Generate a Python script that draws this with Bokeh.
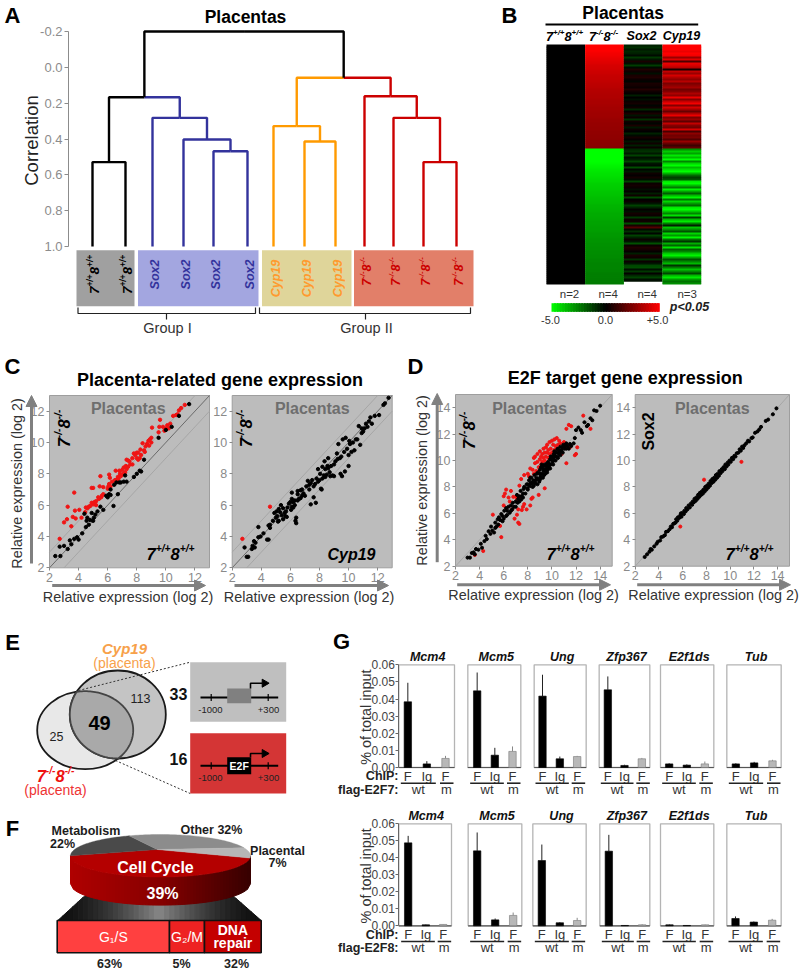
import numpy as np
from bokeh.plotting import figure
from bokeh.models import Range1d, LinearAxis, FixedTicker, Arrow, NormalHead, LinearColorMapper, PrintfTickFormatter, ColumnDataSource
from bokeh.core.properties import value
from bokeh.embed import file_html
from bokeh.resources import INLINE

# ---------- data ----------
LEAF_NAMES = ["WT"]*2 + ["Sox2"]*4 + ["Cyp19"]*3 + ["KO"]*4
H_BLACK_PAIR = 0.529
H_SOX = [0.468, 0.403, 0.282]
H_LEFT = 0.167
H_CYP = [0.414, 0.328]
H_KO = [0.529, 0.282, 0.161]
H_RIGHT = 0.058
H_ROOT = -0.2
CORR_TICKS = [-0.2, 0.0, 0.2, 0.4, 0.6, 0.8, 1.0]

HM_HEAD = ["WT", "KO", "Sox2", "Cyp19"]
HM_N = ["n=2", "n=4", "n=4", "n=3"]
HM_WT = [0.0]*120
HM_KO = [5.0,5.0,5.0,4.9,4.8,4.7,4.6,4.5,4.4,4.3,4.2,4.15,4.1,4.0,3.95,3.9,3.85,3.8,3.75,3.7,3.65,3.6,3.55,3.5,3.45,3.4,3.4,3.35,3.3,3.3,3.25,3.2,3.2,3.15,3.1,3.1,3.05,3.0,3.0,2.95,2.95,2.9,2.9,2.85,2.85,2.8,2.8,2.75,2.75,2.7,2.7,2.65,
 -5.0,-5.0,-5.0,-5.0,-5.0,-5.0,-5.0,-4.9,-4.8,-4.7,-4.6,-4.5,-4.45,-4.4,-4.3,-4.25,-4.2,-4.1,-4.05,-4.0,-3.95,-3.9,-3.85,-3.8,-3.75,-3.7,-3.65,-3.6,-3.55,-3.5,-3.45,-3.4,-3.35,-3.35,-3.3,-3.25,-3.2,-3.2,-3.15,-3.1,-3.1,-3.05,-3.0,-3.0,-2.95,-2.9,-2.9,-2.85,-2.85,-2.8,-2.8,-2.75,-2.75,-2.7,-2.7,-2.65,-2.65,-2.6,-2.6,-2.6,-2.55,-2.55,-2.5,-2.5,-2.5,-2.45,-2.45,-2.4]
HM_SOX = [-0.7,-0.9,-0.5,-0.8,-0.6,-0.2,-1.1,-0.4,0.5,-0.3,-1.2,-0.2,0.6,0.3,-0.3,0.5,0.6,0.2,-0.1,0.5,0.4,0.2,0.7,0.3,0.1,-0.6,0.0,-0.3,0.2,0.4,-0.1,0.3,-0.8,0.1,0.5,-0.4,0.2,-1.0,0.3,-0.1,0.5,-0.5,0.2,0.0,-0.7,-0.2,0.4,0.1,-0.4,0.3,-0.6,0.2,
 -0.8,-1.0,-0.5,-1.3,-0.3,-0.6,-1.4,-0.4,-0.2,-1.5,-0.1,-0.5,0.3,0.1,0.4,-0.2,-1.3,0.2,0.4,0.2,-0.3,0.1,-0.6,0.3,-1.4,0.0,0.2,-0.4,-1.3,-0.7,0.1,-0.3,0.4,0.2,-1.1,0.2,0.3,-1.5,0.5,1.6,-0.2,-0.9,-0.1,-1.3,-0.6,0.2,-0.4,-1.6,0.2,0.6,0.4,0.1,-0.6,0.5,0.3,-1.0,0.2,-0.4,-1.4,-1.5,-0.3,-1.1,0.1,-0.8,-1.3,-0.3]
HM_CYP = [5.0,5.0,5.0,4.6,5.0,4.8,3.0,4.4,1.5,4.6,4.2,3.6,0.4,3.8,3.0,4.2,3.4,2.8,3.6,2.4,2.8,3.2,2.2,2.6,3.4,2.8,4.6,2.6,3.8,4.8,2.6,4.2,3.2,2.0,3.4,4.6,2.4,3.0,1.8,3.8,2.6,2.2,4.2,1.4,2.8,2.2,2.4,1.6,3.0,2.0,1.2,1.8,
 -2.8,-4.0,-3.2,-4.6,-3.6,-5.0,-2.6,-4.2,-5.0,-3.6,-4.4,-5.0,-3.4,-2.0,-1.2,-1.6,-4.6,-5.0,-3.6,-2.4,-4.8,-3.2,-1.8,-3.6,-4.8,-2.2,-4.2,-3.0,-2.0,-4.6,-5.0,-3.8,-2.6,-4.4,-1.2,-3.6,-4.6,-2.4,-0.6,-3.8,-2.8,-1.6,-4.2,-3.0,-4.8,-2.2,-1.0,-3.4,-2.0,-4.4,-1.8,-2.6,-4.0,-4.8,-3.2,-1.6,-2.6,-3.6,-1.0,-2.4,-3.8,-2.6,-1.4,-3.6,-4.6,-3.0,-2.2,-2.8]

C1_RED = [(2.7,3.85),(3.0,4.9),(3.2,5.1),(3.25,5.9),(3.5,4.65),(3.6,5.25),(3.7,6.8),(3.75,5.65),(3.8,5.15),(4.05,5.7),(4.2,5.2),(4.45,5.55),(4.5,5.85),(4.6,5.8),(4.7,5.9),(4.8,5.95),(4.9,6.15),(4.9,7.1),(5.0,7.1),(5.0,6.05),(5.1,6.2),(5.2,6.25),(5.2,6.0),(5.35,6.5),(5.4,6.4),(5.45,7.2),(5.5,7.85),(5.55,6.5),(5.6,6.6),(5.7,6.7),(5.7,7.15),(6.0,7.05),(6.05,7.2),(6.1,7.95),(6.1,7.35),(6.15,7.75),(6.2,7.2),(6.3,7.5),(6.5,7.6),(6.55,8.2),(6.6,7.55),(6.65,7.65),(6.7,7.8),(6.75,7.7),(6.8,8.2),(6.85,8.0),(6.9,7.85),(7.0,8.25),(7.0,7.95),(7.1,8.4),(7.1,8.0),(7.2,8.1),(7.25,8.5),(7.3,8.3),(7.3,8.9),(7.4,8.45),(7.4,8.85),(7.5,8.8),(7.55,8.6),(7.7,9.0),(7.7,8.6),(7.8,9.3),(7.9,9.2),(8.0,9.0),(8.0,9.35),(8.1,9.35),(8.1,8.9),(8.2,9.0),(8.25,9.55),(8.3,9.2),(8.4,9.95),(8.5,9.5),(8.55,9.4),(8.6,9.75),(8.7,9.9),(8.8,10.1),(8.85,9.8),(8.9,10.2),(9.0,10.3),(9.0,10.0),(9.05,10.95),(9.5,10.65),(9.55,11.0),(9.6,11.45),(9.8,11.0),(9.9,10.75),(10.0,10.9),(10.1,11.1),(10.2,10.9),(10.3,11.2),(10.5,11.7),(10.7,11.75),(10.8,11.8),(10.9,12.05),(11.05,12.2),(11.3,12.4)]
C1_BLACK = [(2.4,2.75),(2.75,2.75),(2.7,3.35),(3.0,3.4),(3.25,3.2),(3.4,3.75),(3.5,3.5),(3.7,3.85),(3.9,3.95),(4.0,3.8),(4.25,4.2),(4.4,5.45),(4.5,4.6),(4.55,5.0),(4.6,5.2),(4.7,4.75),(4.8,5.05),(4.9,5.5),(5.0,5.0),(5.05,5.2),(5.15,5.4),(5.3,5.6),(5.5,5.9),(5.7,5.7),(5.9,6.6),(6.0,6.5),(6.1,6.7),(6.2,6.65),(6.2,7.0),(6.4,5.95),(6.45,7.3),(6.6,7.45),(6.7,6.7),(6.8,7.45),(6.9,7.45),(7.1,7.5),(7.2,7.9),(7.3,7.5),(7.8,7.8),(8.0,8.0),(8.2,8.2),(8.3,8.15),(8.5,8.9),(9.5,10.3),(10.0,10.8),(10.4,11.0),(10.9,11.7),(11.6,12.45)]
C2_RED = [(2.7,3.85),(4.6,5.9)]
C2_BLACK = [(2.85,3.3),(3.0,2.7),(3.1,2.7),(3.35,3.2),(3.4,3.4),(3.5,3.7),(3.55,3.3),(3.6,3.6),(3.8,3.95),(3.8,4.6),(3.95,4.0),(4.15,4.2),(4.4,3.8),(4.5,3.8),(4.5,4.7),(4.6,4.55),(4.6,4.75),(4.8,5.0),(4.9,5.5),(5.0,5.2),(5.05,5.6),(5.1,5.3),(5.2,5.75),(5.2,5.0),(5.3,5.55),(5.35,6.0),(5.4,5.35),(5.5,5.1),(5.5,5.8),(5.6,5.5),(5.65,5.3),(5.7,5.6),(5.8,5.85),(5.9,6.1),(6.0,6.2),(6.05,5.7),(6.1,5.9),(6.1,6.4),(6.2,6.2),(6.3,6.3),(6.35,5.0),(6.4,5.2),(6.4,4.85),(6.5,6.3),(6.5,6.7),(6.6,6.4),(6.7,6.45),(6.8,6.6),(6.1,6.8),(6.5,6.9),(6.7,6.95),(6.8,7.0),(7.0,6.6),(7.1,7.2),(7.2,7.55),(7.3,7.0),(7.3,7.3),(7.4,6.05),(7.5,7.6),(7.6,6.5),(7.6,7.2),(7.7,7.35),(7.75,6.15),(7.8,7.7),(7.9,7.5),(8.0,7.6),(8.05,8.0),(8.1,7.05),(8.15,7.0),(8.2,7.7),(8.3,7.9),(8.35,8.8),(8.4,8.3),(8.4,7.8),(8.5,7.95),(8.55,8.5),(8.6,8.35),(8.6,9.0),(8.7,8.1),(8.75,7.85),(8.8,8.5),(8.9,7.9),(9.0,7.85),(9.1,8.8),(9.2,9.3),(9.3,9.9),(9.4,9.0),(9.45,8.0),(9.5,9.1),(9.55,7.85),(9.6,10.2),(9.7,9.4),(9.75,8.15),(9.8,10.3),(9.9,9.6),(10.0,8.5),(10.0,9.2),(10.05,10.1),(10.2,9.4),(10.3,10.0),(10.4,9.5),(10.5,10.2),(10.6,10.2),(10.7,11.05),(10.8,9.85),(10.9,10.6),(11.0,10.7),(11.1,10.9),(11.2,11.2),(11.3,11.0),(11.5,11.6),(11.6,11.2),(11.8,11.7),(12.1,11.75),(12.4,12.4),(12.5,12.5),(12.75,12.85),(6.3,6.0),(6.9,6.75),(7.4,7.4),(7.9,8.3),(8.2,8.45),(9.0,8.6),(9.25,8.95),(10.1,9.9),(10.9,10.9),(11.4,11.35),(5.15,4.95),(5.75,5.25),(6.2,5.85)]
D1_RED = [(3.6,2.85),(4.3,3.15),(5.1,5.9),(5.6,5.1),(5.7,5.05),(5.8,4.2),(6.0,7.3),(6.0,6.6),(6.1,7.5),(6.2,7.8),(6.4,7.2),(6.5,6.9),(6.6,7.7),(6.7,6.3),(6.8,7.25),(6.9,5.6),(7.0,7.25),(7.1,5.9),(7.1,7.0),(7.2,5.3),(7.2,6.3),(7.3,8.1),(7.3,5.2),(7.4,7.25),(7.45,8.6),(7.5,6.25),(7.6,6.5),(7.7,6.7),(7.7,8.9),(7.9,6.3),(8.0,9.0),(8.1,8.8),(8.2,6.6),(8.3,7.1),(8.4,7.2),(8.4,9.3),(8.5,9.0),(8.6,9.8),(8.6,10.3),(8.7,9.2),(8.8,9.9),(8.8,10.5),(8.9,9.5),(8.9,7.4),(9.0,10.1),(9.0,10.7),(9.1,9.7),(9.1,10.3),(9.2,10.5),(9.2,9.9),(9.3,10.9),(9.3,10.2),(9.4,10.0),(9.4,10.6),(9.5,11.0),(9.5,10.3),(9.6,10.6),(9.6,11.2),(9.7,10.8),(9.7,10.2),(9.8,11.4),(9.8,10.5),(9.9,10.9),(10.0,11.5),(10.0,10.6),(10.1,11.2),(10.2,11.6),(10.2,10.8),(10.3,11.1),(10.4,11.7),(10.5,11.2),(10.6,11.5),(10.8,10.5),(11.0,11.4),(11.2,9.8),(11.2,12.4),(11.4,12.7),(11.5,11.0),(11.6,12.6),(11.9,10.4),(12.0,10.5),(12.1,11.0),(12.6,13.4),(13.2,12.4),(8.2,9.4),(8.5,10.2),(9.4,7.9),(10.4,10.9),(10.7,11.3)]
D1_BLACK = [(3.0,2.65),(3.2,2.65),(3.35,3.0),(3.5,3.05),(3.6,2.9),(3.7,3.3),(3.9,3.25),(4.1,3.7),(4.2,3.4),(4.4,3.9),(4.5,4.3),(4.6,4.05),(4.75,4.65),(4.9,4.45),(5.05,4.7),(5.2,4.55),(5.3,5.3),(5.4,5.0),(5.5,5.55),(5.55,5.15),(5.7,5.5),(5.8,5.95),(5.9,5.4),(6.0,5.6),(6.05,6.2),(6.2,5.8),(6.3,6.2),(6.4,6.5),(6.5,6.05),(6.6,6.6),(6.7,6.3),(6.75,6.8),(6.85,6.5),(7.0,6.9),(7.1,7.4),(7.15,6.8),(7.3,7.3),(7.4,7.7),(7.45,7.05),(7.6,7.5),(7.7,8.0),(7.8,7.5),(7.9,8.2),(8.0,7.8),(8.1,8.5),(8.15,8.05),(8.25,8.3),(8.3,8.7),(8.4,8.0),(8.45,8.5),(8.55,8.9),(8.6,8.3),(8.7,8.7),(8.8,8.2),(8.85,9.1),(8.9,8.6),(9.0,9.3),(9.05,8.8),(9.1,9.5),(9.2,9.0),(9.25,9.4),(9.35,8.9),(9.4,9.7),(9.45,9.25),(9.55,9.6),(9.6,9.1),(9.7,9.9),(9.75,9.5),(9.85,10.1),(9.9,9.7),(10.0,10.3),(10.05,9.9),(10.15,10.5),(10.2,10.05),(10.3,10.6),(10.4,10.3),(10.5,10.9),(10.6,10.5),(10.7,11.05),(10.8,10.8),(10.95,11.2),(11.05,10.9),(11.2,11.3),(11.4,10.9),(11.5,11.25),(11.9,11.7),(12.0,12.3),(12.2,12.5),(12.4,12.3),(12.7,12.9),(13.0,12.7),(13.2,13.2),(13.35,13.05),(13.5,13.8),(13.7,13.75),(14.0,14.15),(8.2,8.2),(8.5,8.1),(8.75,9.0),(9.0,9.0),(9.15,9.7),(9.3,9.6),(9.5,9.4),(9.65,9.45),(9.8,9.7),(9.95,10.1),(10.1,10.2),(10.25,10.35),(10.45,10.6),(10.65,10.75),(10.85,11.0),(11.1,11.15),(11.3,11.1),(7.2,7.1),(7.5,7.3),(7.65,7.85),(7.95,7.9),(6.2,6.4),(5.6,5.7),(4.95,5.0),(12.5,12.1),(12.9,12.6),
 (8.35,8.3),(8.65,8.5),(8.95,8.4),(9.1,8.7),(9.25,8.7),(9.45,9.0),(9.65,9.3),(9.85,9.4),(10.1,9.7),(10.3,10.0),(10.5,10.2),(10.7,10.4),(10.9,10.6),(11.2,10.9),(9.0,8.55),(8.8,8.6),(9.3,9.2),(9.6,9.8),(9.9,10.3),(10.2,10.7),(10.45,10.85),(10.75,10.7),(11.0,11.1),(11.6,11.1),(11.8,11.3),(8.0,8.2),(8.2,8.7),(7.6,7.2),(7.3,6.9),(7.0,6.5),(6.6,6.2),(6.3,5.9),(5.9,5.8),(5.3,4.9)]
D2_RED = [(5.8,5.0),(7.8,8.55),(10.95,9.9)]
D2_BLACK = [(2.8,2.7),(3.0,2.9),(3.2,3.1),(3.3,3.3),(3.4,3.25),(3.6,3.5),(3.8,3.7),(3.9,3.85),(4.1,3.95),(4.2,4.2),(4.35,4.25),(4.5,4.35),(4.6,4.6),(4.75,4.65),(4.9,4.8),(5.0,5.0),(5.1,4.95),(5.2,5.2),(5.3,5.25),(5.4,5.3),(5.45,5.55),(5.55,5.45),(5.6,5.7),(5.7,5.65),(5.8,5.85),(5.85,6.0),(5.9,5.75),(6.0,6.05),(6.1,5.95),(6.15,6.2),(6.25,6.15),(6.3,6.4),(6.4,6.3),(6.5,6.6),(6.6,6.45),(6.7,6.75),(6.8,6.65),(6.85,6.9),(6.95,6.85),(7.0,7.1),(7.1,6.95),(7.15,7.2),(7.25,7.1),(7.3,7.4),(7.4,7.25),(7.45,7.55),(7.55,7.4),(7.6,7.65),(7.7,7.5),(7.75,7.8),(7.85,7.65),(7.9,8.0),(8.0,7.8),(8.05,8.1),(8.15,7.95),(8.2,8.25),(8.3,8.1),(8.35,8.45),(8.45,8.3),(8.5,8.6),(8.6,8.4),(8.65,8.7),(8.75,8.55),(8.8,8.9),(8.9,8.7),(8.95,9.0),(9.05,8.85),(9.1,9.2),(9.2,9.05),(9.3,9.35),(9.35,9.2),(9.45,9.5),(9.55,9.35),(9.6,9.7),(9.7,9.55),(9.8,9.85),(9.85,9.7),(9.95,10.0),(10.05,9.9),(10.15,10.2),(10.25,10.1),(10.35,10.35),(10.45,10.3),(10.55,10.55),(10.7,10.6),(10.8,10.85),(10.9,10.75),(11.0,11.05),(11.1,10.95),(11.2,11.15),(11.35,11.3),(11.5,11.5),(11.6,11.45),(11.8,11.7),(11.9,11.75),(12.1,12.1),(12.3,12.2),(12.45,12.35),(12.6,12.55),(13.0,13.0),(13.2,13.1),(13.6,13.5),(13.9,13.95)]

GENES = ["Mcm4", "Mcm5", "Ung", "Zfp367", "E2f1ds", "Tub"]
G7_BAR = [[.0384,.0021,.0053],[.0448,.0072,.0094],[.0417,.0051,.0064],[.0454,.0012,.0051],[.0021,.0014,.0021],[.0021,.0027,.0039]]
G7_ERR = [[.0495,.0037,.0068],[.0555,.0115,.0123],[.0542,.0064,.0068],[.0532,.0016,.0056],[.0025,.0018,.0035],[.0025,.0033,.0045]]
G8_BAR = [[.0488,.0006,.0008],[.0441,.0035,.0061],[.0384,.0018,.0031],[.0439,.0002,.0006],[.0006,.0002,.0006],[.0043,.0022,.0033]]
G8_ERR = [[.0529,.0008,.0010],[.0549,.0043,.0078],[.0478,.0022,.0047],[.0535,.0004,.0010],[.0008,.0003,.0008],[.0055,.0025,.0041]]
G_TICKS = [0.0, 0.01, 0.02, 0.03, 0.04, 0.05, 0.06]
F_LABELS = ["Cell Cycle", "Metabolism", "Other", "Placental"]
F_PCT = [39, 22, 32, 7]
F_SUB = ["G₁/S", "G₂/M", "DNA\nrepair"]
F_SUB_PCT = [63, 5, 32]

# ---------- canvas: primary ranges are page pixels ----------
OX, OY, W, H = 0, 0, 800, 972
FONT = value("Liberation Sans")
p = figure(width=W, height=H, x_range=Range1d(OX, OX+W), y_range=Range1d(OY+H, OY),
           output_backend="svg", toolbar_location=None, tools="", min_border=0,
           x_axis_type=None, y_axis_type=None, outline_line_color=None)
p.grid.visible = False

def ext_x(name, px0, v0, px1, v1):
    k = (v1-v0)/(px1-px0)
    p.extra_x_ranges[name] = Range1d(v0+(OX-px0)*k, v0+(OX+W-px0)*k)

def ext_y(name, px0, v0, px1, v1):
    k = (v1-v0)/(px1-px0)
    p.extra_y_ranges[name] = Range1d(v0+(OY+H-px0)*k, v0+(OY-px0)*k)

def T(x, y, s, size=12, bold=False, italic=False, color="#000000", align="center", angle=0):
    st = ("bold " if bold else "") + ("italic" if italic else "")
    st = st.strip() or "normal"
    p.text([x], [y], text=[s], text_font=FONT, text_font_size=f"{size}px", text_font_style=st,
           text_color=color, text_align=align, text_baseline="middle", angle=angle)

ROT = np.pi/2
def geno(x, y, kind, size, color="#000000", angle=0):
    """Genotype label: digits with raised +/+ or -/- runs, centred on (x, y)."""
    sup = "+/+" if kind == "WT" else "-/-"
    sw = (1.446 if kind == "WT" else 0.944)*0.62*size
    dw = 0.556*size
    total = 2*(dw+sw)
    off = -total/2
    for s, w, fs, up in [("7",dw,size,0),(sup,sw,size*.62,.3*size),("8",dw,size,0),(sup,sw,size*.62,.3*size)]:
        if angle:
            T(x-up, y-off, s, fs, True, True, color, "left", ROT)
        else:
            T(x+off, y-up, s, fs, True, True, color, "left")
        off += w

def L(xs, ys, color="#000000", w=1, dash="solid", **kw):
    p.line(xs, ys, line_color=color, line_width=w, line_dash=dash, line_cap="butt", **kw)

def BOX(x0, x1, y0, y1, fill, line=None, lw=1):
    p.quad(left=[x0], right=[x1], top=[y0], bottom=[y1], fill_color=fill, line_color=line, line_width=lw)

for s, x, y in [("A",12,15),("B",509,15),("C",12,366),("D",415,366),("E",12,642),("F",12,828),("G",341,641)]:
    T(x, y, s, 22, True)

# ---------- A: dendrogram ----------
ext_y("a", 31, -0.2, 246, 1.0)
T(245, 16, "Placentas", 17.5, True)
T(31, 140, "Correlation", 18.5, angle=ROT, color="#222222")
ax = LinearAxis(y_range_name="a", fixed_location=68, bounds=(-0.2, 1.0), ticker=FixedTicker(ticks=CORR_TICKS),
                formatter=PrintfTickFormatter(format="%.1f"), major_label_text_color="#8c8c8c",
                major_label_text_font="Liberation Sans", major_label_text_font_size="13px",
                axis_line_color="#8c8c8c", major_tick_line_color="#8c8c8c", major_tick_out=4, major_tick_in=0,
                minor_tick_line_color=None, major_label_standoff=2)
p.add_layout(ax, "left")
LEAF_X = [92,125, 152,183,213,247, 273,304,335, 364,393,423,456]
BLK, BLU, ORG, RED = "#000000", "#33339c", "#ff9a00", "#cc0000"

def U(xa, ha, xb, hb, h, ca, cb=None):
    cb = cb or ca
    mid = (xa+xb)/2
    L([xa, xa, mid], [ha, h, h], ca, 2.4, y_range_name="a")
    L([mid, xb, xb], [h, h, hb], cb, 2.4, y_range_name="a")
    return mid

n1 = U(LEAF_X[0], 1, LEAF_X[1], 1, H_BLACK_PAIR, BLK)
s1 = U(LEAF_X[4], 1, LEAF_X[5], 1, H_SOX[0], BLU)
s2 = U(LEAF_X[3], 1, s1, H_SOX[0], H_SOX[1], BLU)
s3 = U(LEAF_X[2], 1, s2, H_SOX[1], H_SOX[2], BLU)
lft = U(n1, H_BLACK_PAIR, s3, H_SOX[2], H_LEFT, BLK, BLU)
c1 = U(LEAF_X[7], 1, LEAF_X[8], 1, H_CYP[0], ORG)
c2 = U(LEAF_X[6], 1, c1, H_CYP[0], H_CYP[1], ORG)
k1 = U(LEAF_X[11], 1, LEAF_X[12], 1, H_KO[0], RED)
k2 = U(LEAF_X[10], 1, k1, H_KO[0], H_KO[1], RED)
k3 = U(LEAF_X[9], 1, k2, H_KO[1], H_KO[2], RED)
rgt = U(c2, H_CYP[1], k3, H_KO[2], H_RIGHT, ORG, RED)
U(lft, H_LEFT, rgt, H_RIGHT, H_ROOT, BLK)

for x0, x1, c in [(76,134,"#a0a0a0"),(137.5,258,"#a3a6e0"),(261.5,351,"#dfd59a"),(353.5,473,"#e27f69")]:
    BOX(x0, x1, 249.7, 305.7, c)
LEAF_C = ["#000000"]*2 + ["#33339c"]*4 + ["#ff9a2e"]*3 + ["#cc0000"]*4
for x, s, c in zip(LEAF_X, LEAF_NAMES, LEAF_C):
    if s in ("Sox2", "Cyp19"):
        T(x+2, 274 if s == "Sox2" else 278, s, 12.5, True, True, c, angle=ROT)
    elif s == "WT":
        geno(x+2, 274, s, 13.5, c, ROT)
    else:
        geno(x+2, 271, s, 12.5, c, ROT)
for x0, x1, xc, lab in [(77.5,255,166,"Group I"),(259,470,365,"Group II")]:
    L([x0,x0,x1,x1],[307,313,313,307],"#222222",1.2)
    L([xc,xc],[313,319],"#222222",1.2)
    T(xc+1, 327.5, lab, 14.5, color="#333333")

# ---------- B: heat map ----------
PAL = []
for i in range(256):
    t = i/255*2-1
    PAL.append("#%02x%02x00" % (int(255*max(t,0)), int(255*max(-t,0))))
CM = LinearColorMapper(palette=PAL, low=-5, high=5)
ext_x("hx", 546, 0, 700.7, 4)
ext_y("hy", 44, 0, 284, 120)
T(622.7, 12, "Placentas", 17.5, True)
L([545,697.7],[24,24],"#000000",2)
for x, s in zip([564,603,641,681], HM_HEAD):
    if s in ("WT","KO"):
        geno(x, 35.5, s, 12.8)
    else:
        T(x, 35.5, s, 12.5, True, True)
for i, col in enumerate([HM_WT, HM_KO, HM_SOX, HM_CYP]):
    # each row runs a little into the next one, which paints over it: no seams between rows
    src = ColumnDataSource(dict(l=[i]*120, r=[i+1]*120, t=list(range(120)),
                                b=[min(k+1.6, 120) for k in range(120)], v=col))
    p.quad(left="l", right="r", top="t", bottom="b", source=src, x_range_name="hx", y_range_name="hy",
           fill_color={"field":"v","transform":CM}, line_color=None)
for x, s in zip([569,607.7,646.7,686.7], HM_N):
    T(x, 293, s, 11.5, color="#333333")
CB_V = np.arange(-5, 5.01, 0.25)
ext_x("cb", 551, -5, 659.3, 5)
src = ColumnDataSource(dict(l=CB_V[:-1], r=np.minimum(CB_V[1:]+0.15, 5), t=[302.7]*40, b=[311.3]*40, v=(CB_V[:-1]+CB_V[1:])/2))
p.quad(left="l", right="r", top="t", bottom="b", source=src, x_range_name="cb",
       fill_color={"field":"v","transform":CM}, line_color=None)
for x, s in zip([550,605,657], ["-5.0","0.0","+5.0"]):
    T(x, 319, s, 11, color="#333333")
T(689, 306.5, "p<0.05", 12.5, True, True, "#222222")

# ---------- C / D: scatter panels ----------
GA = "#8a8a8a"
def scatter(tag, x0, x1, y0, y1, dmax, ticks, black, red, msize, lines_side):
    ext_x(tag+"x", x0, 2, x1, dmax)
    ext_y(tag+"y", y1, 2, y0, dmax)
    BOX(x0, x1, y0, y1, "#bcbcbc", "#9e9e9e", 1)
    kw = dict(x_range_name=tag+"x", y_range_name=tag+"y")
    if lines_side:
        L([2,dmax-1],[3,dmax],"#a6a6a6",1,**kw)
        L([3,dmax],[2,dmax-1],"#a6a6a6",1,**kw)
        L([2,dmax],[2,dmax],"#6a6a6a",1,**kw)
    else:
        L([2,dmax],[2,dmax],"#a6a6a6",1,**kw)
    if red:
        p.scatter([a for a,_ in red],[b for _,b in red],size=msize,color="#f01414",**kw)
    if black:
        p.scatter([a for a,_ in black],[b for _,b in black],size=msize,color="#000000",**kw)
    common = dict(ticker=FixedTicker(ticks=ticks), major_label_text_color=GA, major_label_text_font="Liberation Sans",
                  major_label_text_font_size="12.5px", axis_line_color=None, major_tick_line_color=GA,
                  major_tick_out=3, major_tick_in=0, minor_tick_line_color=None, major_label_standoff=2,
                  formatter=PrintfTickFormatter(format="%d"))
    p.add_layout(LinearAxis(x_range_name=tag+"x", fixed_location=y1, **common), "below")
    p.add_layout(LinearAxis(y_range_name=tag+"y", fixed_location=x0, **common), "left")

def arrow(xa, ya, xb, yb):
    p.add_layout(Arrow(x_start=xa, y_start=ya, x_end=xb, y_end=yb, line_color="#808080", line_width=3,
                       end=NormalHead(size=11, fill_color="#808080", line_color="#808080")))

TC = [2,4,6,8,10,12]
TD = [2,4,6,8,10,12,14]
scatter("c1", 49, 209, 395, 567.3, 13, TC, C1_BLACK, C1_RED, 3.4, True)
scatter("c2", 231.7, 391.7, 395, 567.3, 13, TC, C2_BLACK, C2_RED, 3.4, True)
scatter("d1", 455, 611.7, 394, 565.7, 15, TD, D1_BLACK, D1_RED, 3.1, False)
scatter("d2", 634.7, 789, 394, 565.7, 15, TD, D2_BLACK, D2_RED, 3.1, False)
T(219.5, 379, "Placenta-related gene expression", 18, True)
T(624.7, 377, "E2F target gene expression", 18, True)
for x, y in [(127.8,408.3),(311.8,408.3),(529,408.3),(711.8,408.3)]:
    T(x, y, "Placentas", 16, True, color="#6e6e6e")
geno(63.3, 428, "KO", 16.5, angle=ROT)
geno(245, 428, "KO", 16.5, angle=ROT)
geno(468, 430, "KO", 16.5, angle=ROT)
T(647.7, 431, "Sox2", 16, True, angle=ROT)
geno(170, 553, "WT", 16.5)
T(351, 553.7, "Cyp19", 16, True, True)
geno(570, 553, "WT", 16.5)
geno(749, 553, "WT", 16.5)
XL = "Relative expression (log 2)"
for x, y in [(127.5,596),(308.5,596),(533,594.3),(713,594.3)]:
    T(x, y, XL, 14.4, color="#333333")
T(16, 483, XL, 14.4, color="#333333", angle=ROT)
T(421.7, 480, XL, 14.4, color="#333333", angle=ROT)
arrow(51.7,585,205,585); arrow(234,585,388,585)
arrow(456.7,584.3,610,584.3); arrow(636.7,584.3,790,584.3)
arrow(31,563,31,395); arrow(436.7,561.7,436.7,393)

# ---------- E: Venn + promoters ----------
def ell(cx, cy, rx, ry, t):
    return cx+rx*np.cos(t), cy+ry*np.sin(t)
TH = np.linspace(0, 2*np.pi, 180, endpoint=False)
E1 = (84.7, 729.7, 48, 39)
E2 = (117.3, 714, 48, 44)
p.ellipse([E1[0]],[E1[1]],width=[2*E1[2]],height=[2*E1[3]],fill_color="#e8e8e8",line_color="#1a1a1a",line_width=1.8)
p.ellipse([E2[0]],[E2[1]],width=[2*E2[2]],height=[2*E2[3]],fill_color="#c4c4c4",line_color="#1a1a1a",line_width=1.8)
xa, ya = ell(*E1, TH); xb, yb = ell(*E2, TH)
ina = ((xa-E2[0])/E2[2])**2+((ya-E2[1])/E2[3])**2 < 1
inb = ((xb-E1[0])/E1[2])**2+((yb-E1[1])/E1[3])**2 < 1
xs = np.r_[xa[ina], xb[inb]]; ys = np.r_[ya[ina], yb[inb]]
o = np.argsort(np.arctan2(ys-ys.mean(), xs-xs.mean()))
p.patch(xs[o], ys[o], fill_color="#a9a9a9", line_color="#444444", line_width=1.8)
T(124, 648, "Cyp19", 15, True, True, "#f7a14a")
T(124, 662, "(placenta)", 14, color="#f7a14a")
geno(55, 775, "KO", 16.5, "#ee1111")
T(55, 789, "(placenta)", 14, color="#ee3333")
T(140, 698, "113", 12.5, color="#222222")
T(56, 736, "25", 12.5, color="#222222")
T(99, 722, "49", 20, True)
L([78,189.7],[690,661.7],"#333333",1,"2 2")
L([115,189.7],[760,793],"#333333",1,"2 2")
BOX(189.7,285.7,661.7,721.3,"#bfbfbf")
BOX(189.7,285.7,732.7,793,"#d43535")
T(178,693,"33",16,True,color="#111111")
T(178,758,"16",16,True,color="#111111")
def promoter(yc, boxc, bt, bb, atop, ylab, labc, name=None):
    L([200,277.7],[yc,yc],"#000000",2)
    for x in (210.7,267.7):
        L([x,x],[yc-3.5,yc+3.5],"#000000",1.2)
    BOX(226.7,250.7,bt,bb,boxc)
    L([250,250,262],[bt,atop,atop],"#000000",1.6)
    p.scatter([264],[atop],marker="triangle",size=8,angle=-np.pi/2,color="#000000")
    T(210,ylab,"-1000",9.5,color=labc)
    T(268,ylab,"+300",9.5,color=labc)
    if name:
        T(238.7,(bt+bb)/2,name,10.5,True,color="#ffffff")
promoter(697,"#808080",688,702.7,682.7,709,"#222222")
promoter(765.3,"#000000",756.7,773.7,753,777.7,"#222222","E2F")

# ---------- F: 3-D pie ----------
CX, CY, RX, RY, DEP = 160, 855.3, 90, 21.3, 28
AP = (156.7, 849)
def mix(a, b, t):
    return "#%02x%02x%02x" % tuple(int(a[i]+(b[i]-a[i])*t) for i in range(3))
fx = np.linspace(57.3, 260.7, 41)
polys_x, polys_y, cols = [], [], []
def ftop(x):
    if x < 86.7: return 920-(x-57.3)*27/29.4
    if x > 230: return 893+(x-230)*27/30.7
    return 893
for a, b in zip(fx[:-1], fx[1:]):
    m = (a+b)/2; tt = 1-abs(m-159)/102
    polys_x.append([a,b,b,a]); polys_y.append([ftop(a),ftop(b),920,920])
    cols.append(mix((15,15,15),(135,135,135),tt**1.6))
p.patches(polys_x, polys_y, fill_color=cols, line_color=cols, line_width=1)
sx = np.linspace(CX-RX, CX+RX, 61)
def rimy(x):
    return CY+RY*np.sqrt(np.clip(1-((x-CX)/RX)**2, 0, 1))
polys_x, polys_y, cols = [], [], []
for a, b in zip(sx[:-1], sx[1:]):
    tt = ((a+b)/2-(CX-RX))/(2*RX)
    c = mix((176,0,0),(135,0,0),tt*2) if tt < .5 else mix((135,0,0),(55,0,0),(tt-.5)*2)
    polys_x.append([a,b,b,a]); polys_y.append([rimy(a),rimy(b),rimy(b)+DEP,rimy(a)+DEP]); cols.append(c)
p.patches(polys_x, polys_y, fill_color=cols, line_color=cols, line_width=1)
F_RIM = [(6,180),(180,249.5),(249.5,338),(338,366)]
F_COL = ["#b40000","#4a4a4a","#8c8c8c","#b6b6b6"]
for (a,b), c in zip(F_RIM, F_COL):
    t = np.radians(np.linspace(a,b,60))
    rx_, ry_ = ell(CX,CY,RX,RY,t)
    p.patch(np.r_[AP[0],rx_], np.r_[AP[1],ry_], fill_color=c, line_color=c, line_width=0.4)
LBL = "#1c1c1c"
T(85.5,830,F_LABELS[1],12.5,True,color=LBL); T(62,843,f"{F_PCT[1]}%",12.5,True,color=LBL)
T(211,829,f"{F_LABELS[2]} {F_PCT[2]}%",12.5,True,color=LBL)
T(277,850,F_LABELS[3],12.5,True,color=LBL); T(277,862,f"{F_PCT[3]}%",12.5,True,color=LBL)
T(155,867,F_LABELS[0],16,True,color="#ffffff"); T(162,893,f"{F_PCT[0]}%",16,True,color="#ffffff")
for (a,b),c,s,pc,xp in zip([(56.7,169),(169,204),(204,260.7)],["#ff4040","#ee2222","#c40000"],F_SUB,F_SUB_PCT,[109,181,236]):
    BOX(a,b,920,952.3,c,"#111111",1.6)
    for i, part in enumerate(s.split("\n")):
        n = len(s.split("\n"))
        T((a+b)/2, 936+(i-(n-1)/2)*13, part, 14, n > 1, color="#ffffff")
    T(xp,963,f"{pc}%",12.5,True,color="#222222")

# ---------- G: ChIP bars ----------
def zx(z): return 330+z/3
G1_FR = [(205,372),(412,571),(611,767),(806,958),(990,1150),(1189,1352)]
G1_C = [(232,289,345),(440,493,546),(636,688,740),(832,882,934),(1016,1069,1123),(1216,1271,1326)]
G2_FR = [(205,363),(413,574),(607,767),(808,958),(990,1150),(1189,1352)]
G2_C = [(233,286,338),(440,494,548),(634,688,740),(835,883,935),(1017,1069,1124),(1215,1270,1325)]
BAR_C = ["#000000","#000000","#b8b8b8"]
def grow(tag, ftop_, fbot, gene_y, c_y, ln_y, w_y, FR, CS, BAR, ERR, flag):
    ext_y(tag, fbot, 0, ftop_, 0.06)
    ax = LinearAxis(y_range_name=tag, fixed_location=zx(FR[0][0]), bounds=(0,0.06), ticker=FixedTicker(ticks=G_TICKS),
                    formatter=PrintfTickFormatter(format="%.2f"), major_label_text_color="#444444",
                    major_label_text_font="Liberation Sans", major_label_text_font_size="12px",
                    axis_line_color="#666666", major_tick_line_color="#666666", major_tick_out=3, major_tick_in=0,
                    minor_tick_line_color=None, major_label_standoff=1)
    T(365, (ftop_+fbot)/2+1, "% of total input", 14.4, color="#333333", angle=ROT)
    T(398, c_y, "ChIP:", 12.5, True, color="#222222", align="right")
    T(398, w_y, flag+":", 12.5, True, color="#222222", align="right")
    for i, g in enumerate(GENES):
        l, r = zx(FR[i][0]), zx(FR[i][1])
        p.quad(left=[l], right=[r], top=[ftop_], bottom=[fbot], fill_color=None, line_color="#b4b4b4", line_width=1.3)
        L([l,r],[fbot,fbot],"#555555",1.2)
        cs = [zx(c) for c in CS[i]]
        p.segment(cs, BAR[i], cs, ERR[i], line_color=["#222222","#222222","#888888"], line_width=1, y_range_name=tag)
        p.vbar(x=cs, width=7.4, top=BAR[i], bottom=0, fill_color=BAR_C, line_color=["#000000","#000000","#777777"],
               line_width=0.6, y_range_name=tag)
        T((l+r)/2+(2 if i else 1), gene_y, g, 12.5, True, True, "#111111")
        for c, s in zip(cs, ["F","Ig","F"]):
            T(c, c_y, s, 13, color="#333333")
        L([cs[0]-7,cs[1]+9],[ln_y,ln_y],"#222222",1.6)
        L([cs[2]-5.5,cs[2]+8],[ln_y,ln_y],"#222222",1.6)
        T((cs[0]+cs[1])/2+1, w_y, "wt", 13, color="#333333")
        T(cs[2]+1, w_y, "m", 13, color="#333333")
    p.add_layout(ax, "left")

grow("g7", 664.3, 767, 656.7, 775.7, 782.7, 789, G1_FR, G1_C, G7_BAR, G7_ERR, "flag-E2F7")
grow("g8", 823.3, 925.3, 815.7, 934, 941, 947.3, G2_FR, G2_C, G8_BAR, G8_ERR, "flag-E2F8")

open("out.html", "w").write(file_html(p, INLINE))
